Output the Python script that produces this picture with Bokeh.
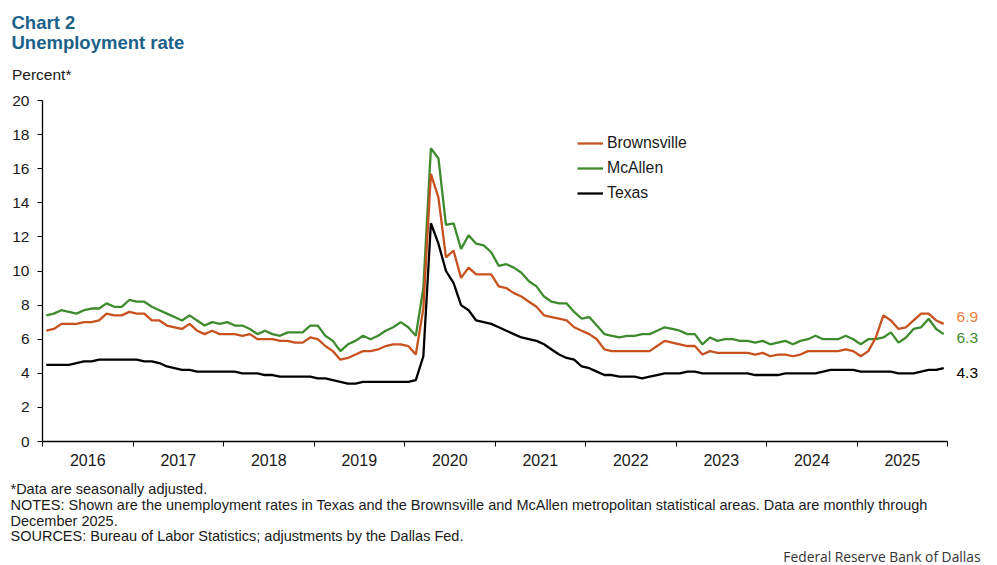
from bokeh.plotting import figure
from bokeh.layouts import column
from bokeh.models import Range1d, FixedTicker, Label, Legend, LegendItem, ColumnDataSource
from bokeh.embed import file_html
from bokeh.resources import INLINE

years = ["2016", "2017", "2018", "2019", "2020", "2021", "2022", "2023", "2024", "2025"]

brownsville = [
    6.5, 6.6, 6.9, 6.9, 6.9, 7.0, 7.0, 7.1, 7.5, 7.4, 7.4, 7.6,
    7.5, 7.5, 7.1, 7.1, 6.8, 6.7, 6.6, 6.9, 6.5, 6.3, 6.5, 6.3,
    6.3, 6.3, 6.2, 6.3, 6.0, 6.0, 6.0, 5.9, 5.9, 5.8, 5.8, 6.1,
    6.0, 5.6, 5.3, 4.8, 4.9, 5.1, 5.3, 5.3, 5.4, 5.6, 5.7, 5.7,
    5.6, 5.1, 7.8, 15.7, 14.3, 10.8, 11.2, 9.6, 10.2, 9.8, 9.8, 9.8,
    9.1, 9.0, 8.7, 8.5, 8.2, 7.9, 7.4, 7.3, 7.2, 7.1, 6.7, 6.5,
    6.3, 6.0, 5.4, 5.3, 5.3, 5.3, 5.3, 5.3, 5.3, 5.6, 5.9, 5.8,
    5.7, 5.6, 5.6, 5.1, 5.3, 5.2, 5.2, 5.2, 5.2, 5.2, 5.1, 5.2,
    5.0, 5.1, 5.1, 5.0, 5.1, 5.3, 5.3, 5.3, 5.3, 5.3, 5.4, 5.3,
    5.0, 5.3, 6.1, 7.4, 7.1, 6.6, 6.7, 7.1, 7.5, 7.5, 7.1, 6.9,
]

mcallen = [
    7.4, 7.5, 7.7, 7.6, 7.5, 7.7, 7.8, 7.8, 8.1, 7.9, 7.9, 8.3,
    8.2, 8.2, 7.9, 7.7, 7.5, 7.3, 7.1, 7.4, 7.1, 6.8, 7.0, 6.9,
    7.0, 6.8, 6.8, 6.6, 6.3, 6.5, 6.3, 6.2, 6.4, 6.4, 6.4, 6.8,
    6.8, 6.2, 5.9, 5.3, 5.7, 5.9, 6.2, 6.0, 6.2, 6.5, 6.7, 7.0,
    6.7, 6.2, 9.0, 17.2, 16.6, 12.7, 12.8, 11.3, 12.1, 11.6, 11.5, 11.1,
    10.3, 10.4, 10.2, 9.9, 9.4, 9.1, 8.5, 8.2, 8.1, 8.1, 7.6, 7.2,
    7.3, 6.8, 6.3, 6.2, 6.1, 6.2, 6.2, 6.3, 6.3, 6.5, 6.7, 6.6,
    6.5, 6.3, 6.3, 5.7, 6.1, 5.9, 6.0, 6.0, 5.9, 5.9, 5.8, 5.9,
    5.7, 5.8, 5.9, 5.7, 5.9, 6.0, 6.2, 6.0, 6.0, 6.0, 6.2, 6.0,
    5.7, 6.0, 6.0, 6.1, 6.4, 5.8, 6.1, 6.6, 6.7, 7.2, 6.6, 6.3,
]

texas = [
    4.5, 4.5, 4.5, 4.5, 4.6, 4.7, 4.7, 4.8, 4.8, 4.8, 4.8, 4.8,
    4.8, 4.7, 4.7, 4.6, 4.4, 4.3, 4.2, 4.2, 4.1, 4.1, 4.1, 4.1,
    4.1, 4.1, 4.0, 4.0, 4.0, 3.9, 3.9, 3.8, 3.8, 3.8, 3.8, 3.8,
    3.7, 3.7, 3.6, 3.5, 3.4, 3.4, 3.5, 3.5, 3.5, 3.5, 3.5, 3.5,
    3.5, 3.6, 5.0, 12.8, 11.6, 10.0, 9.3, 8.0, 7.7, 7.1, 7.0, 6.9,
    6.7, 6.5, 6.3, 6.1, 6.0, 5.9, 5.7, 5.4, 5.1, 4.9, 4.8, 4.4,
    4.3, 4.1, 3.9, 3.9, 3.8, 3.8, 3.8, 3.7, 3.8, 3.9, 4.0, 4.0,
    4.0, 4.1, 4.1, 4.0, 4.0, 4.0, 4.0, 4.0, 4.0, 4.0, 3.9, 3.9,
    3.9, 3.9, 4.0, 4.0, 4.0, 4.0, 4.0, 4.1, 4.2, 4.2, 4.2, 4.2,
    4.1, 4.1, 4.1, 4.1, 4.1, 4.0, 4.0, 4.0, 4.1, 4.2, 4.2, 4.3,
]

y_ticks = [0, 2, 4, 6, 8, 10, 12, 14, 16, 18, 20]

ORANGE = "#C8521F"
GREEN = "#3E8B2E"
BLACK = "#000000"
TITLE_BLUE = "#1C6189"
TEXT = "#1a1a1a"
FONT = "Liberation Sans"

W = 997
TOP_H = 84          # title block
MAIN_H = 388        # chart block
BOT_H = 565 - TOP_H - MAIN_H

FRAME_L = 42        # page x of the axis
FRAME_R_PAGE = 947  # page x where month 120 ends
FRAME_TOP = 100     # page y of value 20
FRAME_BOT = 441     # page y of value 0


def no_align(f):
    try:
        f.frame_align = False
    except Exception:
        pass


n = len(texas)
months = [i + 0.5 for i in range(n)]
src = ColumnDataSource(dict(x=months, bro=brownsville, mca=mcallen, tx=texas))

# extend the frame to the page's right edge; the axis itself stops at month 120
x_end = n * (W - FRAME_L) / (FRAME_R_PAGE - FRAME_L)

p = figure(width=W, height=MAIN_H, output_backend="svg", toolbar_location=None,
           x_range=Range1d(0, x_end), y_range=Range1d(0, 20),
           min_border_left=FRAME_L, min_border_right=0,
           min_border_top=FRAME_TOP - TOP_H,
           min_border_bottom=TOP_H + MAIN_H - FRAME_BOT)
no_align(p)
p.outline_line_color = None
p.grid.visible = False
p.background_fill_color = "white"
p.border_fill_color = "white"

r_tx = p.line("x", "tx", source=src, line_color=BLACK, line_width=2.3)
r_mca = p.line("x", "mca", source=src, line_color=GREEN, line_width=2.3)
r_bro = p.line("x", "bro", source=src, line_color=ORANGE, line_width=2.3)

xa = p.xaxis[0]
mid = [12 * k + 6 for k in range(len(years))]
xa.ticker = FixedTicker(ticks=mid, minor_ticks=[12 * k for k in range(len(years) + 1)])
xa.major_label_overrides = {m: y for m, y in zip(mid, years)}
xa.bounds = (0, n)
xa.major_tick_line_color = None
xa.major_tick_out = 0
xa.major_tick_in = 0
xa.minor_tick_line_color = BLACK
xa.minor_tick_out = 5
xa.minor_tick_in = 0
xa.axis_line_color = BLACK
xa.axis_line_width = 1.3
xa.major_label_text_font = FONT
xa.major_label_text_font_size = "16px"
xa.major_label_text_color = TEXT
xa.major_label_standoff = 7

ya = p.yaxis[0]
ya.ticker = FixedTicker(ticks=y_ticks)
ya.minor_tick_line_color = None
ya.major_tick_out = 5
ya.major_tick_in = 0
ya.major_tick_line_color = BLACK
ya.axis_line_color = BLACK
ya.axis_line_width = 1.3
ya.major_label_text_font = FONT
ya.major_label_text_font_size = "15.5px"
ya.major_label_text_color = TEXT
ya.major_label_standoff = 8

legend = Legend(items=[LegendItem(label="Brownsville", renderers=[r_bro]),
                       LegendItem(label="McAllen", renderers=[r_mca]),
                       LegendItem(label="Texas", renderers=[r_tx])],
                location=(535, 237), orientation="vertical",
                label_text_font=FONT, label_text_font_size="15.8px", label_text_color=TEXT,
                glyph_width=26, glyph_height=22, label_height=22, spacing=3,
                label_standoff=4, padding=0, margin=0,
                border_line_color=None, background_fill_alpha=0)
p.add_layout(legend, "center")

# end-of-line value labels
for vals, col, off in [(brownsville, "#EE7D3D", 7), (mcallen, GREEN, -3.7), (texas, BLACK, -5)]:
    p.add_layout(Label(x=956 - FRAME_L, y=vals[-1], x_units="screen", y_units="data",
                       y_offset=off, text=f"{vals[-1]:.1f}", text_font=FONT,
                       text_font_size="15.5px", text_color=col, text_baseline="middle",
                       text_align="left"))


def text_fig(h):
    f = figure(width=W, height=h, output_backend="svg", toolbar_location=None,
               x_range=Range1d(0, W), y_range=Range1d(0, h),
               x_axis_type=None, y_axis_type=None, min_border=0)
    no_align(f)
    f.outline_line_color = None
    f.grid.visible = False
    f.border_fill_color = "white"
    f.background_fill_color = "white"
    return f


def add_text(f, top, text, x, y_base, size, color=TEXT, style="normal", align="left", font=FONT):
    h = f.height
    y_mid = y_base - 0.3465 * size   # centre of the text box for a given baseline
    f.add_layout(Label(x=x, y=h - (y_mid - top), x_units="screen", y_units="screen", text=text,
                       text_font=font, text_font_size=f"{size}px", text_color=color,
                       text_font_style=style, text_align=align, text_baseline="middle"))


top = text_fig(TOP_H)
add_text(top, 0, "Chart 2", 11, 28.3, 18.5, TITLE_BLUE, "bold")
add_text(top, 0, "Unemployment rate", 11, 48.3, 18.5, TITLE_BLUE, "bold")
add_text(top, 0, "Percent*", 11.5, 79, 15.5)

bot = text_fig(BOT_H)
b0 = TOP_H + MAIN_H
foot = [
    ("*Data are seasonally adjusted.", 494),
    ("NOTES: Shown are the unemployment rates in Texas and the Brownsville and McAllen metropolitan statistical areas. Data are monthly through", 510),
    ("December 2025.", 525.5),
    ("SOURCES: Bureau of Labor Statistics; adjustments by the Dallas Fed.", 541),
]
for t, yb in foot:
    add_text(bot, b0, t, 10, yb, 14.5)
add_text(bot, b0, "Federal Reserve Bank of Dallas", 980, 560.5, 13.8, "#333333",
         align="right", font="Open Sans")

layout = column(top, p, bot, spacing=0)
open("out.html", "w").write(file_html(layout, INLINE))
